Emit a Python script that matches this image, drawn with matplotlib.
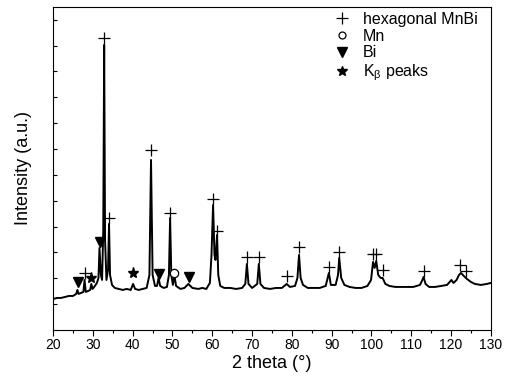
import matplotlib
matplotlib.use('Agg')
import matplotlib.pyplot as plt
from matplotlib.lines import Line2D
from matplotlib.ticker import MultipleLocator
import numpy as np

plt.rcParams['font.family'] = ['Liberation Sans', 'DejaVu Sans']
plt.rcParams['mathtext.fontset'] = 'custom'
plt.rcParams['mathtext.rm'] = 'Liberation Sans'
plt.rcParams['mathtext.it'] = 'Liberation Sans:italic'

# XRD pattern, 2 theta (deg) vs intensity (a.u.)
two_theta = [
    20.0, 21.0, 22.0, 23.0, 24.0, 25.0, 25.8, 26.1, 26.4, 27.0, 27.6, 27.9,
    28.2, 28.8, 29.3, 29.6, 29.9, 30.5, 31.0, 31.4, 31.65, 32.0, 32.3, 32.6,
    32.83, 33.05, 33.4, 33.8, 34.05, 34.3, 34.8, 35.5, 36.5, 37.5, 38.5, 39.5,
    40.1, 40.6, 41.5, 42.5, 43.5, 44.2, 44.6, 45.0, 45.6, 46.1, 46.5, 46.9,
    47.8, 48.6, 49.1, 49.4, 49.7, 50.1, 50.5, 50.9, 52.0, 53.0, 54.0, 55.0,
    56.5, 57.5, 58.5, 59.4, 59.8, 60.2, 60.55, 60.8, 61.2, 61.5, 62.0, 63.0,
    64.5, 66.0, 67.5, 68.3, 68.7, 69.1, 70.0, 71.3, 71.7, 72.1, 73.0, 74.5,
    76.0, 77.5, 78.7, 79.5, 80.8, 81.4, 81.8, 82.2, 82.8, 84.0, 85.5, 87.0,
    88.5, 89.3, 89.8, 91.0, 91.6, 91.9, 92.4, 93.2, 94.5, 96.0, 97.5, 99.0,
    99.9, 100.4, 100.8, 101.2, 101.7, 102.3, 102.8, 103.5, 104.5, 106.0,
    107.5, 109.0, 110.5, 112.2, 112.8, 113.1, 113.6, 114.5, 116.0, 117.5,
    119.0, 120.1, 120.6, 121.4, 122.0, 122.5, 123.2, 124.0, 125.0, 126.0,
    127.5, 129.0, 130.0,
]
intensity = [
    31, 32, 32, 33, 34, 34, 36, 40, 36, 37, 38, 50,
    38, 39, 40, 46, 41, 44, 47, 52, 82, 55, 50, 100,
    285, 90, 50, 60, 106, 55, 45, 42, 41, 40, 41, 40,
    46, 41, 40, 41, 42, 55, 170, 55, 44, 44, 52, 44,
    42, 43, 55, 112, 55, 45, 54, 44, 41, 42, 46, 42,
    41, 42, 41, 47, 75, 125, 75, 70, 95, 55, 44, 42,
    42, 41, 42, 46, 66, 46, 42, 46, 66, 46, 42, 41,
    42, 42, 46, 43, 44, 52, 75, 52, 45, 42, 42, 42,
    44, 57, 45, 45, 55, 72, 52, 45, 43, 42, 42, 44,
    50, 68, 62, 69, 55, 52, 52, 46, 44, 43,
    43, 43, 43, 45, 50, 53, 46, 43, 43, 44,
    45, 50, 47, 50, 55, 57, 54, 51, 48, 46,
    45, 46, 47,
]

# phase markers placed above the reflections
mnbi_x = [27.9, 32.8, 34.0, 44.6, 49.4, 60.1, 61.3, 68.7, 71.7, 78.7, 81.8,
          89.3, 91.9, 100.4, 101.2, 102.8, 113.1, 122.2, 123.8]
mnbi_y = [57, 292, 112, 180, 117, 131, 99, 73, 73, 54, 83,
          63, 78, 76, 76, 60, 59, 65, 59]
mn_x = [50.5]
mn_y = [57]
bi_x = [26.2, 31.7, 46.6, 54.1]
bi_y = [48, 88, 56, 53]
kb_x = [29.6, 40.1]
kb_y = [52, 57]

fig, ax = plt.subplots(figsize=(5.06, 3.85), dpi=100)
fig.subplots_adjust(left=0.105, right=0.970, top=0.982, bottom=0.143)

ax.plot(two_theta, intensity, color='black', lw=1.4)

mk = dict(ls='none', color='black')
ax.plot(mnbi_x, mnbi_y, marker='+', ms=9, mew=0.9, **mk)
ax.plot(mn_x, mn_y, marker='o', ms=6, mfc='white', mew=0.9, **mk)
ax.plot(bi_x, bi_y, marker='v', ms=7.5, **mk)
ax.plot(kb_x, kb_y, marker='*', ms=8, **mk)

ax.set_xlim(20, 130)
ax.set_ylim(0, 323)
ax.xaxis.set_major_locator(MultipleLocator(10))
ax.xaxis.set_minor_locator(MultipleLocator(5))
ax.set_yticks(np.arange(0, 323, 25.85))
ax.set_yticklabels([])
ax.tick_params(axis='x', which='major', direction='out', length=4, width=0.8,
               labelsize=10, pad=2)
ax.tick_params(axis='x', which='minor', direction='out', length=2, width=0.8)
ax.tick_params(axis='y', direction='in', length=3, width=0.8)

ax.set_xlabel('2 theta (°)', fontsize=13, labelpad=2)
ax.set_ylabel('Intensity (a.u.)', fontsize=13, labelpad=12)

handles = [
    Line2D([], [], marker='+', ms=9, mew=0.9, **mk),
    Line2D([], [], marker='o', ms=5, mfc='white', mew=0.9, **mk),
    Line2D([], [], marker='v', ms=7, **mk),
    Line2D([], [], marker='*', ms=7, **mk),
]
labels = ['hexagonal MnBi', 'Mn', 'Bi', r'K$_\mathrm{\beta}$ peaks']
ax.legend(handles, labels, loc='upper right', bbox_to_anchor=(0.995, 1.02),
          frameon=False, fontsize=11.5, handlelength=1.0, handletextpad=0.8,
          labelspacing=0.12, borderaxespad=0.3)

fig.savefig('out.png', dpi=100)
